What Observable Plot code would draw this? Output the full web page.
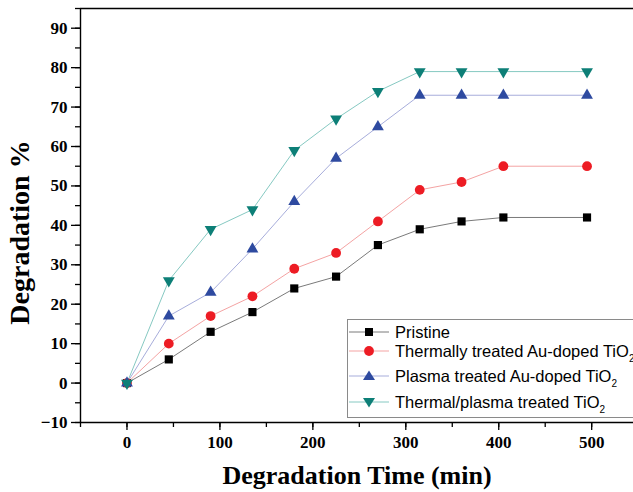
<!DOCTYPE html>
<html><head><meta charset="utf-8">
<script src="https://cdn.jsdelivr.net/npm/d3@7"></script>
<script src="https://cdn.jsdelivr.net/npm/@observablehq/plot@0.6"></script>
<style>
body{margin:0;background:#fff;}
#wrap{position:relative;width:633px;height:492px;overflow:hidden;}
#legend{position:absolute;left:347px;top:319px;width:300px;height:97px;border:1px solid #8a8a8a;background:#fff;font-family:"Liberation Sans",Arial,sans-serif;font-size:16.5px;color:#000;}
.row{position:absolute;left:0;height:20px;display:flex;align-items:center;white-space:nowrap;}
.row svg{flex:none;}
.row span{margin-left:5px;line-height:20px;}
.row sub{font-size:10px;vertical-align:-5px;line-height:0;}
</style></head><body><div id="wrap"></div>
<script>
const times = [0, 45, 90, 135, 180, 225, 270, 315, 360, 405, 495];
const pristine = [0, 6, 13, 18, 24, 27, 35, 39, 41, 42, 42];
const thermal = [0, 10, 17, 22, 29, 33, 41, 49, 51, 55, 55];
const plasma = [0, 17, 23, 34, 46, 57, 65, 73, 73, 73, 73];
const thermalPlasma = [0, 26, 39, 44, 59, 67, 74, 79, 79, 79, 79];
const seriesNames = ["Pristine", "Thermally treated Au-doped TiO", "Plasma treated Au-doped TiO", "Thermal/plasma treated TiO"];
const seriesSub = ["", "2", "2", "2"];
const xTicks = [0, 100, 200, 300, 400, 500];
const yTicks = [-10, 0, 10, 20, 30, 40, 50, 60, 70, 80, 90];
const xLabel = "Degradation Time (min)";
const yLabel = "Degradation %";
const xDomain = [-50, 545];
const yDomain = [-10, 95];

const seriesValues = [pristine, thermal, plasma, thermalPlasma];
const lineColors = ["#7a7a7a", "#f4a3a3", "#a7addb", "#86c9c2"];
const markColors = ["#000000", "#ed1c24", "#2e4aa0", "#0d7f77"];
const symbols = ["square", "circle", "triangle", "triangle"];
const rotations = [0, 0, 0, 180];
const radii = [4.6, 4.9, 4.4, 4.4];

const serif = "'Liberation Serif','Times New Roman',serif";
const marks = [];
seriesValues.forEach((vals, i) => {
  const data = times.map((t, j) => ({t, v: vals[j]}));
  marks.push(Plot.line(data, {x: "t", y: "v", stroke: lineColors[i], strokeWidth: 1}));
});
seriesValues.forEach((vals, i) => {
  const data = times.map((t, j) => ({t, v: vals[j]}));
  marks.push(Plot.dot(data, {x: "t", y: "v", symbol: symbols[i], r: radii[i], fill: markColors[i], stroke: "none", rotate: rotations[i]}));
});

const minorX = d3.range(xDomain[0], xDomain[1] + 1, 50);
const minorY = d3.range(yDomain[0], yDomain[1] + 1, 5);

const chart = Plot.plot({
  width: 633, height: 492,
  marginLeft: 80, marginRight: 0, marginTop: 8, marginBottom: 70,
  x: {domain: xDomain},
  y: {domain: yDomain},
  style: {background: "#fff"},
  marks: [
    Plot.axisX(minorX, {tickSize: 5, tickFormat: () => "", strokeWidth: 1.3, label: null}),
    Plot.axisX(xTicks, {tickSize: 8, tickPadding: 5, strokeWidth: 1.3, fontSize: 17, fontWeight: "bold", fontFamily: serif, fill: "#000", label: null}),
    Plot.axisY(minorY, {tickSize: 5, tickFormat: () => "", strokeWidth: 1.3, label: null}),
    Plot.axisY(yTicks, {tickSize: 9, tickPadding: 4, strokeWidth: 1.3, fontSize: 17, fontWeight: "bold", fontFamily: serif, fill: "#000", label: null}),
    Plot.ruleX([xDomain[0]], {stroke: "#000", strokeWidth: 1.4}),
    Plot.ruleY([yDomain[0]], {stroke: "#000", strokeWidth: 1.4}),
    Plot.ruleY([yDomain[1]], {stroke: "#000", strokeWidth: 1.4}),
    ...marks,
    Plot.text([xLabel], {frameAnchor: "bottom", dy: 53, textAnchor: "middle", lineAnchor: "middle", fontSize: 26, fontWeight: "bold", fontFamily: serif, fill: "#000"}),
    Plot.text([yLabel], {frameAnchor: "left", rotate: -90, dx: -60, dy: 17, textAnchor: "middle", lineAnchor: "middle", fontSize: 28, fontWeight: "bold", fontFamily: serif, fill: "#000"})
  ]
});
const wrap = document.getElementById("wrap");
wrap.appendChild(chart);

// legend
const legend = document.createElement("div");
legend.id = "legend";
const rowTops = [2, 21, 46, 72];
function symbolSvg(i) {
  let shape;
  const c = markColors[i];
  if (symbols[i] === "square") shape = `<rect x="17" y="6" width="8" height="8" fill="${c}"/>`;
  else if (symbols[i] === "circle") shape = `<circle cx="21" cy="10" r="4.9" fill="${c}"/>`;
  else if (rotations[i] === 0) shape = `<path d="M21,4.5 L27,14 L15,14 Z" fill="${c}"/>`;
  else shape = `<path d="M21,15.5 L27,6 L15,6 Z" fill="${c}"/>`;
  return `<svg width="42" height="20"><line x1="1" y1="10" x2="41" y2="10" stroke="${lineColors[i]}" stroke-width="1"/>${shape}</svg>`;
}
seriesNames.forEach((name, i) => {
  const row = document.createElement("div");
  row.className = "row";
  row.style.top = rowTops[i] + "px";
  row.innerHTML = symbolSvg(i) + `<span>${name}${seriesSub[i] ? "<sub>" + seriesSub[i] + "</sub>" : ""}</span>`;
  legend.appendChild(row);
});
wrap.appendChild(legend);
</script>
</body></html>
